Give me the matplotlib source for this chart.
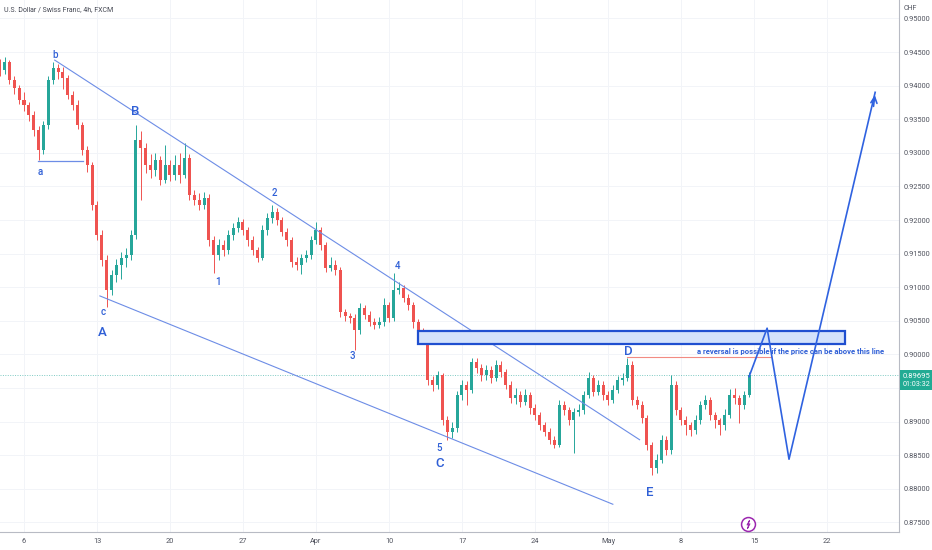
import matplotlib
matplotlib.use("Agg")
import matplotlib.pyplot as plt
import numpy as np
from matplotlib.patches import Rectangle
from matplotlib.path import Path

# 8h bars, index 0 = Monday 6 March
closes = [
    0.9423, 0.9435, 0.9408, 0.9396, 0.9379,
    0.9371, 0.9356, 0.9334, 0.9304, 0.9341, 0.9408, 0.9426, 0.9420, 0.9411, 0.9386,
    0.9371, 0.9341, 0.9304, 0.9282, 0.9222, 0.9178, 0.9141, 0.9096, 0.9118, 0.9133,
    0.9144, 0.9148, 0.9178, 0.9319, 0.9307, 0.9282, 0.9274, 0.9289, 0.9260, 0.9282,
    0.9267, 0.9282, 0.9267, 0.9292, 0.9237, 0.9230, 0.9222, 0.9233, 0.9170, 0.9148,
    0.9163, 0.9155, 0.9178, 0.9188, 0.9197, 0.9185, 0.9170, 0.9155, 0.9144, 0.9185,
    0.9203, 0.9212, 0.9200, 0.9182, 0.9170, 0.9138, 0.9133, 0.9144, 0.9148, 0.9170,
    0.9185, 0.9163, 0.9129, 0.9133, 0.9126, 0.9063, 0.9057, 0.9054, 0.9037, 0.9069,
    0.9059, 0.9048, 0.9044, 0.9048, 0.9073, 0.9054, 0.9096, 0.9099, 0.9084, 0.9073,
    0.9048, 0.9037, 0.9022, 0.8962, 0.8955, 0.8969, 0.8902, 0.8885, 0.8891, 0.8940,
    0.8955, 0.8947, 0.8989, 0.8980, 0.8969, 0.8977, 0.8965, 0.8984, 0.8974, 0.8955,
    0.8935, 0.8940, 0.8929, 0.8940, 0.8920, 0.8910, 0.8895, 0.8885, 0.8873, 0.8865,
    0.8925, 0.8917, 0.8902, 0.8914, 0.8917, 0.8940, 0.8965, 0.8944, 0.8955, 0.8940,
    0.8932, 0.8947, 0.8962, 0.8965, 0.8984, 0.8932, 0.8925, 0.8905, 0.8865, 0.8831,
    0.8843, 0.8873, 0.8858, 0.8955, 0.8917, 0.8902, 0.8895, 0.8888, 0.8902, 0.8925,
    0.8932, 0.8910, 0.8902, 0.8895, 0.8910, 0.8940, 0.8935, 0.8925, 0.8940, 0.89695,
]
highs = [
    0.9440, 0.9442, 0.9438, 0.9414, 0.9401,
    0.9390, 0.9376, 0.9362, 0.9340, 0.9348, 0.9414, 0.9435, 0.9432, 0.9428, 0.9416,
    0.9392, 0.9378, 0.9346, 0.9310, 0.9286, 0.9228, 0.9185, 0.9148, 0.9126, 0.9142,
    0.9152, 0.9158, 0.9185, 0.9341, 0.9332, 0.9315, 0.9298, 0.9300, 0.9295, 0.9312,
    0.9290, 0.9296, 0.9300, 0.9315, 0.9298, 0.9245, 0.9240, 0.9242, 0.9238, 0.9176,
    0.9172, 0.9170, 0.9185, 0.9195, 0.9205, 0.9202, 0.9190, 0.9176, 0.9160, 0.9192,
    0.9210, 0.9222, 0.9218, 0.9205, 0.9188, 0.9175, 0.9145, 0.9150, 0.9156, 0.9176,
    0.9197, 0.9190, 0.9168, 0.9145, 0.9140, 0.9130, 0.9068, 0.9062, 0.9060, 0.9076,
    0.9074, 0.9064, 0.9054, 0.9056, 0.9084, 0.9078, 0.9121, 0.9108, 0.9104, 0.9090,
    0.9078, 0.9052, 0.9040, 0.9026, 0.8968, 0.8975, 0.8972, 0.8908, 0.8900, 0.8946,
    0.8962, 0.8960, 0.8995, 0.8994, 0.8986, 0.8984, 0.8982, 0.8992, 0.8990, 0.8978,
    0.8960, 0.8950, 0.8946, 0.8948, 0.8944, 0.8926, 0.8914, 0.8900, 0.8890, 0.8878,
    0.8932, 0.8930, 0.8922, 0.8920, 0.8926, 0.8946, 0.8974, 0.8970, 0.8962, 0.8960,
    0.8946, 0.8954, 0.8968, 0.8972, 0.8995, 0.8990, 0.8938, 0.8930, 0.8910, 0.8870,
    0.8852, 0.8880, 0.8878, 0.8969, 0.8960, 0.8922, 0.8908, 0.8900, 0.8910, 0.8930,
    0.8940, 0.8936, 0.8915, 0.8906, 0.8918, 0.8948, 0.8950, 0.8940, 0.8946, 0.8974,
]
lows = [
    0.9415, 0.9418, 0.9402, 0.9388, 0.9372,
    0.9362, 0.9348, 0.9325, 0.9289, 0.9298, 0.9336, 0.9402, 0.9410, 0.9395, 0.9380,
    0.9364, 0.9335, 0.9296, 0.9272, 0.9215, 0.9170, 0.9132, 0.9071, 0.9088, 0.9108,
    0.9112, 0.9130, 0.9140, 0.9172, 0.9230, 0.9270, 0.9262, 0.9266, 0.9252, 0.9255,
    0.9258, 0.9260, 0.9255, 0.9262, 0.9230, 0.9222, 0.9215, 0.9216, 0.9162, 0.9121,
    0.9140, 0.9146, 0.9150, 0.9170, 0.9182, 0.9178, 0.9162, 0.9148, 0.9138, 0.9140,
    0.9178, 0.9196, 0.9192, 0.9176, 0.9162, 0.9130, 0.9126, 0.9120, 0.9138, 0.9142,
    0.9165, 0.9156, 0.9122, 0.9124, 0.9118, 0.9056, 0.9050, 0.9046, 0.9007, 0.9030,
    0.9052, 0.9042, 0.9038, 0.9040, 0.9042, 0.9048, 0.9050, 0.9090, 0.9078, 0.9066,
    0.9040, 0.9030, 0.9015, 0.8955, 0.8945, 0.8948, 0.8895, 0.8873, 0.8876, 0.8885,
    0.8932, 0.8925, 0.8942, 0.8972, 0.8960, 0.8962, 0.8958, 0.8960, 0.8966, 0.8948,
    0.8928, 0.8926, 0.8922, 0.8924, 0.8912, 0.8902, 0.8888, 0.8878, 0.8866, 0.8861,
    0.8862, 0.8910, 0.8895, 0.8854, 0.8908, 0.8912, 0.8935, 0.8938, 0.8940, 0.8932,
    0.8925, 0.8928, 0.8942, 0.8955, 0.8960, 0.8925, 0.8918, 0.8898, 0.8858, 0.8821,
    0.8824, 0.8838, 0.8850, 0.8852, 0.8910, 0.8895, 0.8880, 0.8878, 0.8882, 0.8896,
    0.8918, 0.8902, 0.8890, 0.8880, 0.8888, 0.8905, 0.8926, 0.8898, 0.8918, 0.8936,
]
first_open = 0.9430

tick_pos = [0, 15, 30, 45, 60, 75, 90, 105, 120, 135, 150, 165]
tick_lab = ["6", "13", "20", "27", "Apr", "10", "17", "24", "May", "8", "15", "22"]
price_ticks = np.arange(0.875, 0.9501, 0.005)

# wave labels (index, price, text, size)
waves = [
    (6.4, 0.9446, "b", 7), (3.3, 0.9272, "a", 7), (22.8, 0.9361, "B", 9.5),
    (16.2, 0.9063, "c", 7), (16.0, 0.9033, "A", 9.5), (39.9, 0.9108, "1", 7),
    (51.4, 0.9240, "2", 7), (67.4, 0.8998, "3", 7), (76.8, 0.9132, "4", 7),
    (85.3, 0.8861, "5", 7), (85.5, 0.8837, "C", 9.5), (124.1, 0.9005, "D", 9.5),
    (128.6, 0.8795, "E", 9.5),
]
upper_line = ([6.3, 126.5], [0.9438, 0.8873])
lower_line = ([15.6, 121.0], [0.9087, 0.8777])
a_line = ([2.9, 12.1], [0.9288, 0.9288])
zone = (81.0, 168.7, 0.90155, 0.90348)
d_line = ([123.9, 153.6], [0.8996, 0.8996])
path_x = [149, 152.7, 157.2, 174.9]
path_y = [0.8967, 0.9039, 0.8844, 0.9390]

closes = np.array(closes)
highs = np.array(highs)
lows = np.array(lows)
opens = np.concatenate([[first_open], closes[:-1]])
idx = np.arange(-5, -5 + len(closes))

up_col = "#26a69a"
dn_col = "#ef5350"
blue = "#2f5fd6"
thin_blue = "#6d8de6"

fig = plt.figure(figsize=(9.32, 5.5), dpi=100)
ax = fig.add_axes([0, 18 / 550, 899 / 932, 532 / 550])

colors = np.where(closes >= opens, up_col, dn_col)
ax.vlines(idx, lows, highs, colors=colors, lw=0.7, zorder=3)
body_lo = np.minimum(opens, closes)
body_h = np.maximum(np.abs(closes - opens), 0.00008)
ax.bar(idx, body_h, bottom=body_lo, width=0.62, color=colors, lw=0, zorder=3)

ax.set_xlim(-4.93, 179.8)
ax.set_ylim(0.87357, 0.95274)

ax.yaxis.tick_right()
ax.set_yticks(price_ticks)
ax.set_yticklabels(["%.5f" % p for p in price_ticks])
ax.set_xticks(tick_pos)
ax.set_xticklabels(tick_lab)
ax.tick_params(length=0, labelsize=5.3, colors="#50535e")
ax.tick_params(axis="y", pad=3)
ax.tick_params(axis="x", pad=4)
for lab in ax.get_xticklabels() + ax.get_yticklabels():
    lab.set_family("Roboto")
# the 0.89500 label sits under the last-price tag
for lab, p in zip(ax.get_yticklabels(), price_ticks):
    if abs(p - 0.895) < 1e-6:
        lab.set_visible(False)
ax.grid(True, color="#f2f4f8", lw=0.7, zorder=0)
for s in ["top", "left"]:
    ax.spines[s].set_visible(False)
for s in ["right", "bottom"]:
    ax.spines[s].set_color("#b8bbc4")
    ax.spines[s].set_linewidth(0.8)

# drawings
ax.plot(*upper_line, color=thin_blue, lw=0.8, zorder=4)
ax.plot(*lower_line, color=thin_blue, lw=0.8, zorder=4)
ax.plot(*a_line, color=thin_blue, lw=0.9, zorder=4)
ax.add_patch(Rectangle((zone[0], zone[2]), zone[1] - zone[0], zone[3] - zone[2],
                       fc="#d3e2fb", ec="#1f4fd0", lw=1.6, zorder=5))
ax.plot(*d_line, color="#f28b82", lw=0.8, zorder=4)
ax.plot(path_x, path_y, color="#2f62e0", lw=1.2, zorder=6)
ax.annotate("", xy=(path_x[-1], path_y[-1]),
            xytext=(path_x[-1] - 0.4, path_y[-1] - 0.0025),
            arrowprops=dict(arrowstyle="->", color="#2f62e0", lw=1.2,
                            mutation_scale=11), zorder=6)
ax.axhline(closes[-1], color=up_col, lw=0.7, ls=(0, (1, 1.5)), alpha=0.6, zorder=2)

for x, y, t, fs in waves:
    ax.text(x, y, t, color=blue, fontsize=fs, ha="center", va="center",
            family="Roboto", fontweight="medium", zorder=7)
ax.text(138.3, 0.9005, "a reversal is possible if the price can be above this line",
        color=blue, fontsize=5.5, fontweight="bold", family="Roboto",
        ha="left", va="center", zorder=7)

# lightning marker
bolt = Path([(0.25, 1.0), (-0.35, -0.1), (0.05, -0.1), (-0.25, -1.0),
             (0.35, 0.15), (-0.05, 0.15), (0.25, 1.0)])
ax.plot([148.8], [0.87476], marker="o", ms=10, mfc="white", mec="#9c27b0",
        mew=1.1, zorder=7, clip_on=False)
ax.plot([148.8], [0.87476], marker=bolt, ms=6, mfc="none", mec="#9c27b0",
        mew=0.7, zorder=8, clip_on=False)

# last price tag on the price axis
ytr = ax.get_yaxis_transform()
ax.add_patch(Rectangle((1.001, 0.89471), 0.036, 0.00297, transform=ytr,
                       fc="#22ab94", ec="none", clip_on=False, zorder=9))
ax.text(1.019, 0.89685, "%.5f" % closes[-1], transform=ytr, color="white",
        fontsize=5.5, family="Roboto", ha="center", va="center", zorder=10)
ax.text(1.019, 0.89545, "01:03:32", transform=ytr, color="white",
        fontsize=5.2, family="Roboto", ha="center", va="center", zorder=10)

fig.text(4 / 932, 1 - 10 / 550, "U.S. Dollar / Swiss Franc, 4h, FXCM",
         fontsize=5, color="#434651", family="Roboto", va="center")
fig.text(904 / 932, 1 - 9 / 550, "CHF", fontsize=5, color="#50535e",
         family="Roboto", va="center")

fig.savefig("out.png", dpi=100)
